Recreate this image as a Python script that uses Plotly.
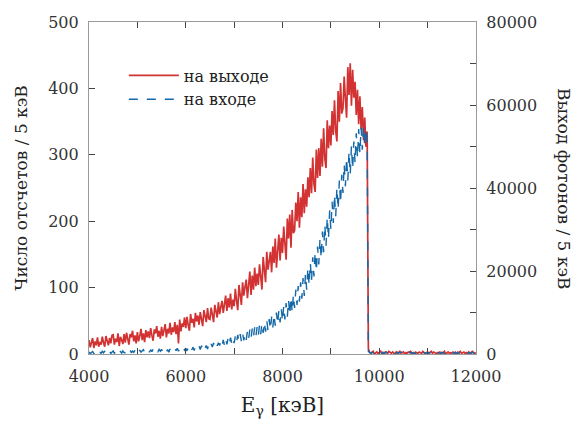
import plotly.graph_objects as go

# Bin energies (keV), 25 keV steps from 4000 to 12000
energy_kev = [4000 + 25 * i for i in range(321)]

# "на выходе" (counts / 5 keV, left axis)
out_counts = [
    21, 10, 17, 24, 9, 19, 13, 25, 11, 18,
    14, 26, 17, 11, 27, 20, 13, 24, 16, 28,
    29, 14, 23, 18, 31, 12, 26, 21, 15, 30,
    17, 32, 22, 14, 30, 25, 35, 19, 28, 16,
    33, 19, 27, 38, 21, 31, 18, 36, 25, 34,
    24, 39, 28, 20, 37, 31, 42, 26, 35, 23,
    41, 27, 36, 45, 25, 38, 31, 47, 29, 40,
    33, 48, 30, 44, 16, 52, 34, 46, 41, 55,
    39, 56, 44, 35, 60, 47, 53, 40, 62, 49,
    58, 44, 63, 51, 42, 66, 55, 48, 69, 53,
    52, 70, 59, 48, 74, 63, 55, 78, 60, 71,
    80, 62, 76, 88, 65, 84, 70, 91, 67, 82,
    72, 98, 80, 66, 104, 85, 74, 108, 88, 101,
    112, 84, 106, 124, 89, 118, 97, 130, 102, 121,
    104, 135, 117, 97, 146, 122, 108, 154, 127, 140,
    154, 123, 162, 137, 174, 130, 166, 180, 141, 175,
    152, 192, 166, 142, 204, 174, 210, 160, 217, 182,
    186, 228, 200, 244, 190, 236, 206, 256, 212, 248,
    222, 266, 236, 280, 242, 296, 256, 244, 308, 265,
    310, 268, 324, 282, 340, 294, 280, 352, 310, 344,
    314, 366, 330, 382, 336, 320, 396, 350, 408, 362,
    370, 418, 384, 356, 432, 390, 438, 374, 428, 386,
    410, 360, 398, 346, 388, 338, 372, 322, 356, 312,
    335, 8,
    3, 1, 2, 4, 0, 2, 3, 1, 2, 5,
    1, 2, 0, 3, 2, 1, 4, 2, 1, 3,
    2, 0, 3, 1, 2, 4, 1, 2, 3, 0,
    2, 1, 3, 2, 4, 1, 2, 0, 3, 2,
    1, 3, 2, 1, 4, 2, 0, 2, 3, 1,
    2, 4, 1, 3, 2, 0, 2, 1, 3, 2,
    1, 2, 4, 0, 2, 3, 1, 2, 1, 3,
    2, 1, 0, 3, 2, 4, 1, 2, 3, 1,
    2, 0, 3, 1, 2, 4, 2, 1, 2,
]

# "на входе" (photon yield / 5 keV, right axis)
in_photons = [
    520, 40, 350, 610, 110, 430, 0, 560, 180, 390,
    150, 640, 280, 720, 60, 500, 240, 680, 130, 470,
    720, 180, 520, 90, 800, 360, 610, 220, 760, 300,
    350, 860, 260, 640, 940, 300, 720, 410, 900, 330,
    820, 300, 960, 470, 720, 1050, 380, 860, 500, 930,
    420, 1040, 560, 1150, 640, 360, 1000, 560, 1100, 650,
    1120, 480, 900, 1280, 560, 1060, 420, 1200, 700, 980,
    600, 1260, 800, 1400, 680, 1150, 1450, 780, 1300, 920,
    1400, 760, 1550, 980, 1700, 1020, 1600, 860, 1800, 1200,
    1250, 1900, 1080, 2000, 1300, 2150, 1400, 2050, 1200, 2250,
    1500, 2400, 1700, 2650, 1850, 2800, 2000, 2700, 2050, 3000,
    1900, 3400, 2100, 3600, 2300, 3800, 2450, 3950, 2600, 3850,
    2600, 4300, 2800, 4600, 3000, 4800, 3100, 5000, 3300, 4900,
    3400, 5500, 3700, 5900, 3900, 6100, 4100, 6400, 4300, 6500,
    4400, 7000, 4800, 7400, 5100, 7700, 5400, 8100, 5700, 8400,
    5900, 9000, 6400, 9500, 6800, 10000, 7200, 10500, 7600, 10900,
    7800, 11600, 8300, 12300, 9000, 13000, 9400, 13700, 10000, 14300,
    11100, 15500, 11800, 16400, 12600, 17300, 13300, 18300, 14000, 19300,
    15500, 20800, 16500, 22000, 17600, 23300, 18700, 24600, 19900, 25900,
    21600, 27800, 23000, 29500, 24500, 31200, 26100, 33000, 27700, 34600,
    30000, 36700, 31600, 38400, 33200, 40100, 34800, 41800, 36300, 43200,
    38800, 45700, 40400, 47300, 41800, 48800, 43200, 50100, 44500, 51200,
    46000, 53200, 47200, 54200, 48300, 54600, 49200, 54800, 50000, 54400,
    51800, 600,
    300, 120, 450, 200, 80, 360, 250, 500, 150, 320,
    180, 410, 90, 270, 520, 220, 340, 110, 460, 240,
    380, 60, 290, 430, 170, 310, 520, 140, 260, 400,
    200, 350, 90, 480, 230, 150, 370, 280, 110, 440,
    260, 180, 500, 320, 70, 390, 210, 290, 460, 130,
    340, 240, 410, 100, 280, 520, 190, 360, 230, 150,
    470, 300, 120, 390, 250, 180, 430, 90, 330, 270,
    210, 480, 160, 350, 110, 400, 280, 190, 450, 230,
    320, 140, 380, 260, 90, 430, 200, 310, 170,
]

x_tickvals = [4000, 5000, 6000, 7000, 8000, 9000, 10000, 11000, 12000]
x_ticktext = ["4000", "", "6000", "", "8000", "", "10000", "", "12000"]
y_tickvals = [0, 100, 200, 300, 400, 500]
y2_tickvals = [0, 10000, 20000, 30000, 40000, 50000, 60000, 70000, 80000]
y2_ticktext = ["0", "", "20000", "", "40000", "", "60000", "", "80000"]

RED = "#d23232"
BLUE = "#1468a8"
FONT = "DejaVu Serif"

fig = go.Figure()
fig.add_trace(go.Scatter(
    x=energy_kev, y=out_counts, mode="lines", name="на выходе",
    line=dict(color=RED, width=1.7), yaxis="y"))
fig.add_trace(go.Scatter(
    x=energy_kev, y=in_photons, mode="lines", name="на входе",
    line=dict(color=BLUE, width=1.4, dash="dash"), yaxis="y2"))

axis_common = dict(showgrid=False, zeroline=False, showline=True,
                   linecolor="#9a9a9a", linewidth=1.2,
                   ticks="inside", ticklen=6, tickcolor="#444", tickwidth=1.2,
                   tickfont=dict(family=FONT, size=16, color="#333"))

fig.update_layout(
    width=575, height=427,
    margin=dict(l=89, r=99, t=22, b=73),
    paper_bgcolor="white", plot_bgcolor="white",
    font=dict(family=FONT, color="#222"),
    showlegend=True,
    legend=dict(x=0.09, y=0.89, xanchor="left", yanchor="top",
                bgcolor="rgba(0,0,0,0)", font=dict(family=FONT, size=16, color="#222"),
                tracegroupgap=0, itemwidth=50),
    xaxis=dict(range=[4000, 12000], tickmode="array", tickvals=x_tickvals,
               ticktext=x_ticktext, mirror="ticks", ticklabelstandoff=8,
               title=dict(text="E<sub>γ</sub> [кэВ]", font=dict(family=FONT, size=20, color="#222"),
                          standoff=12),
               **axis_common),
    yaxis=dict(range=[0, 500], tickmode="array", tickvals=y_tickvals,
               ticklabelstandoff=6,
               title=dict(text="Число отсчетов / 5 кэВ", font=dict(family=FONT, size=17, color="#222"),
                          standoff=16),
               **axis_common),
    yaxis2=dict(range=[0, 80000], overlaying="y", side="right", tickmode="array",
                tickvals=y2_tickvals, ticktext=y2_ticktext, ticklabelstandoff=6,
                **axis_common),
    annotations=[dict(text="Выход фотонов / 5 кэВ", textangle=90, xref="paper", yref="paper",
                      x=1.0, y=0.5, xanchor="center", yanchor="middle", xshift=88,
                      showarrow=False, font=dict(family=FONT, size=17, color="#222"))],
)

fig.write_html("out.html")
